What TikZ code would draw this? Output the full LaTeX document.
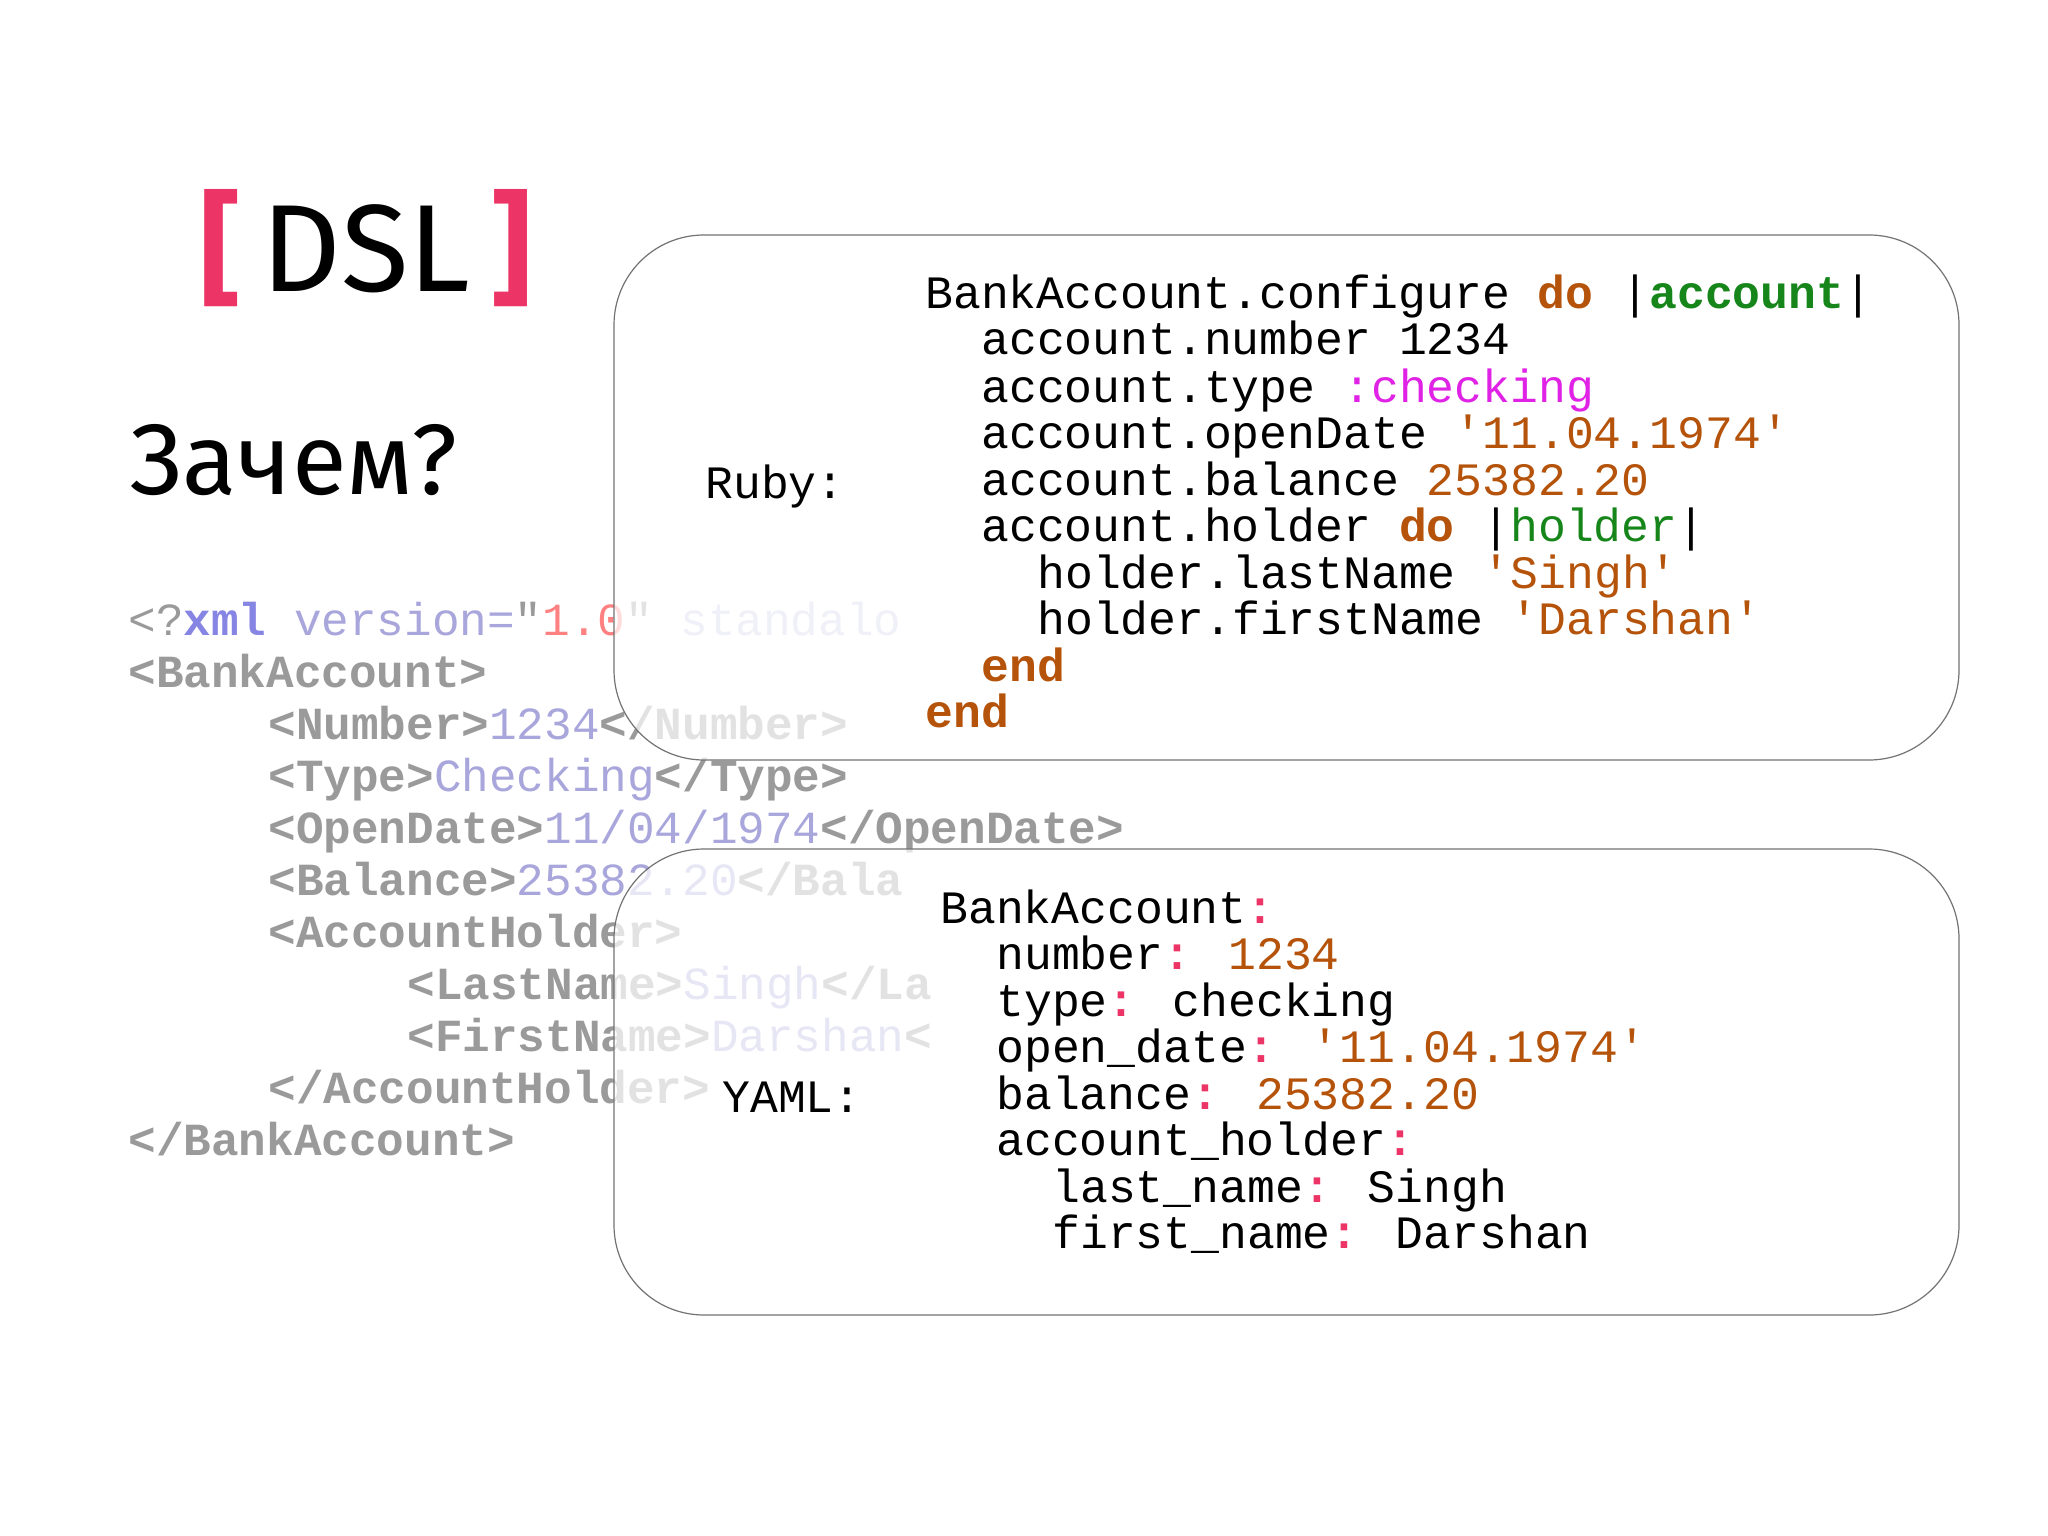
\documentclass[tikz,border=0pt]{standalone}
\usepackage{fontspec}
\setmainfont{Liberation Mono}
\newfontfamily\headfont{Fira Sans}
\begin{document}
\begin{tikzpicture}[x=0.5pt,y=-0.5pt,
  code/.style={anchor=base west,inner sep=0pt,yshift=-7.5pt,font=\fontsize{23.2}{26}\selectfont},
  xml/.style={anchor=base west,inner sep=0pt,yshift=-7.5pt,font=\fontsize{23}{26}\selectfont},
  box/.style={draw=black!55,line width=0.6pt,rounded corners=45pt,fill=white,fill opacity=0.72}]
\definecolor{kw}{HTML}{B5530A}
\definecolor{grn}{HTML}{16861A}
\definecolor{mag}{HTML}{E021E6}
\definecolor{pnk}{HTML}{EC3466}
\definecolor{tag}{HTML}{9A9A9A}
\definecolor{val}{HTML}{A9A6DC}
\newcommand\q{\textquotesingle}
\useasboundingbox (0,0) rectangle (2048,1535);
\fill[white] (0,0) rectangle (2048,1535);
% title
\node[font=\headfont\fontsize{62}{70}\selectfont] (title) at (366,248) {\textcolor{pnk}{\textbf{[}}\,DSL\,\textcolor{pnk}{\textbf{]}}};
\node[font=\headfont\fontsize{50}{60}\selectfont] (why) at (294,460) {Зачем?};
% xml
\newcommand\tg[1]{\textcolor{tag}{\textbf{#1}}}
\newcommand\vl[1]{\textcolor{val}{#1}}
\node[xml] (x0) at (128,620) {\textcolor{tag}{<?}\textcolor{val!80!blue}{\textbf{xml}} \vl{version=}\textcolor{tag}{\textquotedbl}\textcolor{red!50}{1.0}\textcolor{tag}{\textquotedbl} \textcolor{val!60}{standalo}};
\node[xml] (x1) at (128,672) {\tg{<BankAccount>}};
\node[xml] (x2) at (268,724) {\tg{<Number>}\vl{1234}\tg{</Number>}};
\node[xml] (x3) at (268,776) {\tg{<Type>}\vl{Checking}\tg{</Type>}};
\node[xml] (x4) at (268,828) {\tg{<OpenDate>}\vl{11/04/1974}\tg{</OpenDate>}};
\node[xml] (x5) at (268,880) {\tg{<Balance>}\vl{25382.20}\tg{</Bala}};
\node[xml] (x6) at (268,932) {\tg{<AccountHolder>}};
\node[xml] (x7) at (407,984) {\tg{<LastName>}\vl{Singh}\tg{</La}};
\node[xml] (x8) at (407,1036) {\tg{<FirstName>}\vl{Darshan}\tg{<}};
\node[xml] (x9) at (268,1088) {\tg{</AccountHolder>}};
\node[xml] (x10) at (128,1140) {\tg{</BankAccount>}};
% boxes
\draw[box] (614,235) rectangle (1959,760);
\draw[box] (614,849) rectangle (1959,1315);
% ruby
\node[code] (rl) at (705,483) {Ruby:};
\node[code] (r0) at (925,294) {BankAccount.configure \textcolor{kw}{\textbf{do}} |\textcolor{grn}{\textbf{account}}|};
\node[code] (r1) at (981,340) {account.number 1234};
\node[code] (r2) at (981,387) {account.type \textcolor{mag}{:checking}};
\node[code] (r3) at (981,433) {account.openDate \textcolor{kw}{\q11.04.1974\q}};
\node[code] (r4) at (981,480) {account.balance \textcolor{kw}{25382.20}};
\node[code] (r5) at (981,526) {account.holder \textcolor{kw}{\textbf{do}} |\textcolor{grn}{holder}|};
\node[code] (r6) at (1037,573) {holder.lastName \textcolor{kw}{\q Singh\q}};
\node[code] (r7) at (1037,619) {holder.firstName \textcolor{kw}{\q Darshan\q}};
\node[code] (r8) at (981,666) {\textcolor{kw}{\textbf{end}}};
\node[code] (r9) at (925,712) {\textcolor{kw}{\textbf{end}}};
% yaml
\node[code] (yl) at (722,1097) {YAML:};
\node[code] (y0) at (940,908) {BankAccount\textcolor{pnk}{\textbf{:}}};
\node[code] (y1) at (996,954) {number\textcolor{pnk}{\textbf{:}} \textcolor{kw}{1234}};
\node[code] (y2) at (996,1001) {type\textcolor{pnk}{\textbf{:}} checking};
\node[code] (y3) at (996,1047) {open\_date\textcolor{pnk}{\textbf{:}} \textcolor{kw}{\q11.04.1974\q}};
\node[code] (y4) at (996,1094) {balance\textcolor{pnk}{\textbf{:}} \textcolor{kw}{25382.20}};
\node[code] (y5) at (996,1140) {account\_holder\textcolor{pnk}{\textbf{:}}};
\node[code] (y6) at (1052,1187) {last\_name\textcolor{pnk}{\textbf{:}} Singh};
\node[code] (y7) at (1052,1233) {first\_name\textcolor{pnk}{\textbf{:}} Darshan};
\end{tikzpicture}
\end{document}
